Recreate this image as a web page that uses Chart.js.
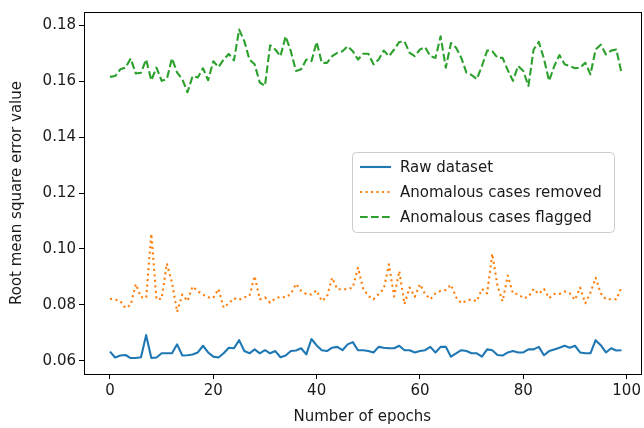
<!DOCTYPE html>
<html>
<head>
<meta charset="utf-8">
<script src="https://cdn.jsdelivr.net/npm/chart.js@4.4.1/dist/chart.umd.min.js"></script>
<style>
  html, body { margin: 0; padding: 0; background: #fff; }
  #chart { display: block; }
</style>
</head>
<body>
<canvas id="chart" width="644" height="428"></canvas>
<script>
// ─── Data ────────────────────────────────────────────────────────────────────

const EPOCHS = Array.from({ length: 100 }, (_, i) => i);

const RAW = [
    0.0633, 0.0612, 0.0619, 0.0621, 0.0610, 0.0610, 0.0613, 0.0692, 0.0610, 0.0612,
    0.0627, 0.0627, 0.0627, 0.0659, 0.0619, 0.0620, 0.0623, 0.0630, 0.0654, 0.0630,
    0.0615, 0.0612, 0.0627, 0.0647, 0.0645, 0.0674, 0.0635, 0.0627, 0.0641, 0.0627,
    0.0638, 0.0627, 0.0635, 0.0613, 0.0619, 0.0635, 0.0637, 0.0645, 0.0623, 0.0678,
    0.0655, 0.0638, 0.0635, 0.0647, 0.0650, 0.0638, 0.0659, 0.0667, 0.0638, 0.0638,
    0.0635, 0.0630, 0.0650, 0.0647, 0.0645, 0.0645, 0.0654, 0.0638, 0.0638, 0.0630,
    0.0635, 0.0638, 0.0650, 0.0630, 0.0650, 0.0650, 0.0615, 0.0627, 0.0638, 0.0635,
    0.0627, 0.0627, 0.0615, 0.0641, 0.0638, 0.0621, 0.0619, 0.0630, 0.0635, 0.0630,
    0.0630, 0.0641, 0.0641, 0.0650, 0.0620, 0.0635, 0.0641, 0.0647, 0.0654, 0.0647,
    0.0654, 0.0630, 0.0627, 0.0627, 0.0674, 0.0656, 0.0630, 0.0645, 0.0637, 0.0638
];

const REMOVED = [
    0.0822, 0.0820, 0.0813, 0.0789, 0.0800, 0.0874, 0.0828, 0.0825, 0.1054, 0.0820,
    0.0822, 0.0948, 0.0880, 0.0775, 0.0837, 0.0814, 0.0866, 0.0849, 0.0837, 0.0827,
    0.0825, 0.0857, 0.0790, 0.0806, 0.0824, 0.0818, 0.0827, 0.0832, 0.0903, 0.0820,
    0.0827, 0.0808, 0.0823, 0.0829, 0.0827, 0.0839, 0.0875, 0.0850, 0.0839, 0.0837,
    0.0852, 0.0814, 0.0829, 0.0897, 0.0856, 0.0856, 0.0856, 0.0862, 0.0933, 0.0859,
    0.0832, 0.0820, 0.0839, 0.0857, 0.0945, 0.0830, 0.0921, 0.0803, 0.0862, 0.0829,
    0.0874, 0.0839, 0.0820, 0.0841, 0.0850, 0.0853, 0.0872, 0.0827, 0.0806, 0.0815,
    0.0820, 0.0813, 0.0857, 0.0841, 0.0983, 0.0868, 0.0813, 0.0905, 0.0841, 0.0839,
    0.0824, 0.0829, 0.0857, 0.0839, 0.0857, 0.0824, 0.0839, 0.0839, 0.0848, 0.0841,
    0.0818, 0.0862, 0.0806, 0.0844, 0.0897, 0.0841, 0.0820, 0.0820, 0.0820, 0.0862
];

const FLAGGED = [
    0.1615, 0.1618, 0.1642, 0.1648, 0.1681, 0.1627, 0.1630, 0.1677, 0.1603, 0.1648,
    0.1601, 0.1607, 0.1681, 0.1630, 0.1607, 0.1560, 0.1618, 0.1613, 0.1646, 0.1603,
    0.1671, 0.1650, 0.1677, 0.1697, 0.1674, 0.1784, 0.1743, 0.1677, 0.1660, 0.1595,
    0.1583, 0.1728, 0.1713, 0.1689, 0.1760, 0.1707, 0.1636, 0.1642, 0.1677, 0.1671,
    0.1740, 0.1665, 0.1665, 0.1689, 0.1701, 0.1707, 0.1725, 0.1707, 0.1677, 0.1698,
    0.1698, 0.1660, 0.1677, 0.1709, 0.1689, 0.1713, 0.1740, 0.1742, 0.1701, 0.1689,
    0.1713, 0.1721, 0.1689, 0.1683, 0.1760, 0.1648, 0.1736, 0.1719, 0.1683, 0.1630,
    0.1622, 0.1607, 0.1654, 0.1709, 0.1707, 0.1683, 0.1683, 0.1639, 0.1601, 0.1654,
    0.1636, 0.1583, 0.1713, 0.1740, 0.1680, 0.1601, 0.1654, 0.1693, 0.1660, 0.1654,
    0.1646, 0.1648, 0.1666, 0.1624, 0.1713, 0.1730, 0.1695, 0.1709, 0.1713, 0.1630
];

const SERIES_LABELS = ["Raw dataset", "Anomalous cases removed", "Anomalous cases flagged"];
const X_TICKS = [0, 20, 40, 60, 80, 100];
const Y_TICKS = [0.06, 0.08, 0.10, 0.12, 0.14, 0.16, 0.18];

// ─── Styling ──────────────────────────────────────────────────────────────────

const FONT = "'DejaVu Sans', sans-serif";
const FONT_SIZE = 15;
const TEXT = "#1a1a1a";

const toPoints = (arr) => arr.map((v, i) => ({ x: EPOCHS[i], y: v }));

// Spines on all four sides (matplotlib look)
const framePlugin = {
    id: "frame",
    afterDatasetsDraw(chart) {
        const { ctx, chartArea: a } = chart;
        ctx.save();
        ctx.strokeStyle = "#000";
        ctx.lineWidth = 1;
        ctx.strokeRect(Math.round(a.left) + 0.5, Math.round(a.top) + 0.5,
                       Math.round(a.right - a.left), Math.round(a.bottom - a.top));
        ctx.restore();
    },
};

// Matplotlib style legend box
const legendPlugin = {
    id: "mplLegend",
    afterDraw(chart) {
        const { ctx } = chart;
        const box = { x: 352, y: 152, w: 262, h: 80, r: 4 };
        ctx.save();
        ctx.beginPath();
        ctx.roundRect(box.x + 0.5, box.y + 0.5, box.w, box.h, box.r);
        ctx.fillStyle = "rgba(255,255,255,0.85)";
        ctx.fill();
        ctx.strokeStyle = "#cccccc";
        ctx.lineWidth = 1;
        ctx.stroke();

        chart.data.datasets.forEach((ds, i) => {
            const y = box.y + 15 + i * 25;
            ctx.beginPath();
            ctx.setLineDash(ds.borderDash || []);
            ctx.lineCap = ds.borderCapStyle || "butt";
            ctx.strokeStyle = ds.borderColor;
            ctx.lineWidth = ds.borderWidth;
            ctx.moveTo(box.x + 8, y);
            ctx.lineTo(box.x + 39, y);
            ctx.stroke();
            ctx.setLineDash([]);
            ctx.fillStyle = TEXT;
            ctx.font = `${FONT_SIZE}px ${FONT}`;
            ctx.textBaseline = "middle";
            ctx.fillText(ds.label, box.x + 48, y + 1);
        });
        ctx.restore();
    },
};

const datasets = [
    { label: SERIES_LABELS[0], data: toPoints(RAW),     borderColor: "#1f77b4", borderWidth: 2.1 },
    { label: SERIES_LABELS[1], data: toPoints(REMOVED), borderColor: "#ff7f0e", borderWidth: 2.1,
      borderDash: [2.1, 3.4] },
    { label: SERIES_LABELS[2], data: toPoints(FLAGGED), borderColor: "#2ca02c", borderWidth: 2.1,
      borderDash: [7.7, 3.3] },
].map((d) => ({ ...d, pointRadius: 0, fill: false, tension: 0, borderJoinStyle: "round" }));

new Chart(document.getElementById("chart"), {
    type: "line",
    data: { datasets },
    options: {
        responsive: false,
        animation: false,
        layout: { padding: { left: 0, right: 3, top: 9, bottom: 0 } },
        plugins: { legend: { display: false }, tooltip: { enabled: false } },
        scales: {
            x: {
                type: "linear",
                min: -5.03,
                max: 102.7,
                afterBuildTicks: (s) => { s.ticks = X_TICKS.map((v) => ({ value: v })); },
                afterFit: (s) => { s.height = 54; },
                grid: { display: true, drawOnChartArea: false, drawTicks: true,
                        tickLength: 5, tickColor: "#000" },
                border: { display: true, color: "#000" },
                ticks: { color: TEXT, font: { family: FONT, size: FONT_SIZE }, padding: 3,
                         maxRotation: 0, autoSkip: false },
                title: { display: true, text: "Number of epochs", color: TEXT,
                         font: { family: FONT, size: FONT_SIZE }, padding: { top: 2, bottom: 2 } },
            },
            y: {
                type: "linear",
                min: 0.0553,
                max: 0.1847,
                afterBuildTicks: (s) => { s.ticks = Y_TICKS.map((v) => ({ value: v })); },
                afterFit: (s) => { s.width = 84; },
                grid: { display: true, drawOnChartArea: false, drawTicks: true,
                        tickLength: 5, tickColor: "#000" },
                border: { display: true, color: "#000" },
                ticks: { color: TEXT, font: { family: FONT, size: FONT_SIZE }, padding: 3,
                         callback: (v) => v.toFixed(2) },
                title: { display: true, text: "Root mean square error value", color: TEXT,
                         font: { family: FONT, size: FONT_SIZE }, padding: { top: 8, bottom: 4 } },
            },
        },
    },
    plugins: [framePlugin, legendPlugin],
});
</script>
</body>
</html>
